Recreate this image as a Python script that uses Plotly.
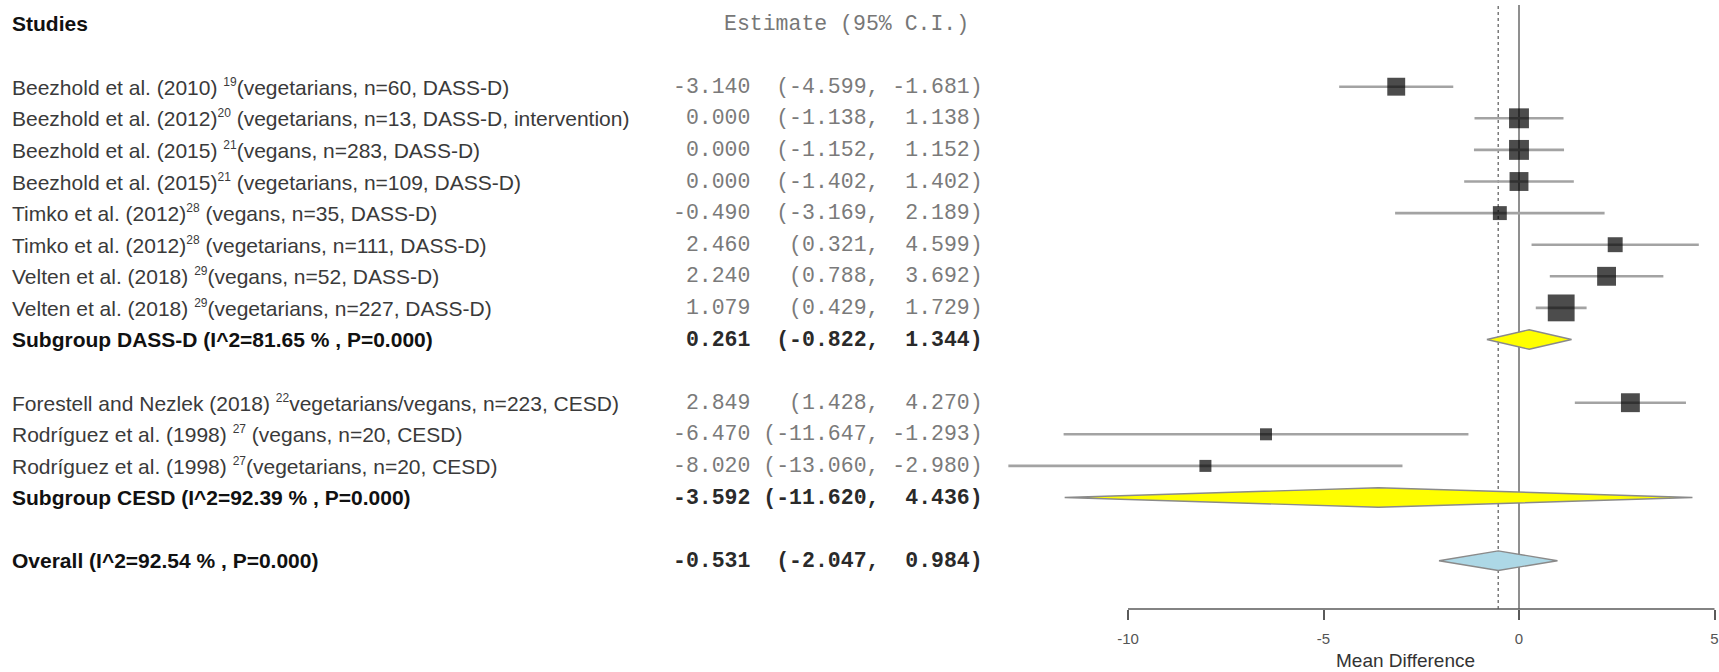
import math
import plotly.graph_objects as go

# ---- study-level data --------------------------------------------------
study_names = [
    ("Beezhold et al. (2010) ", "19", "(vegetarians, n=60, DASS-D)"),
    ("Beezhold et al. (2012)", "20", " (vegetarians, n=13, DASS-D, intervention)"),
    ("Beezhold et al. (2015) ", "21", "(vegans, n=283, DASS-D)"),
    ("Beezhold et al. (2015)", "21", " (vegetarians, n=109, DASS-D)"),
    ("Timko et al. (2012)", "28", " (vegans, n=35, DASS-D)"),
    ("Timko et al. (2012)", "28", " (vegetarians, n=111, DASS-D)"),
    ("Velten et al. (2018) ", "29", "(vegans, n=52, DASS-D)"),
    ("Velten et al. (2018) ", "29", "(vegetarians, n=227, DASS-D)"),
    ("Forestell and Nezlek (2018) ", "22", "vegetarians/vegans, n=223, CESD)"),
    ("Rodríguez et al. (1998) ", "27", " (vegans, n=20, CESD)"),
    ("Rodríguez et al. (1998) ", "27", "(vegetarians, n=20, CESD)"),
]
study_est = [-3.140, 0.000, 0.000, 0.000, -0.490, 2.460, 2.240, 1.079, 2.849, -6.470, -8.020]
study_lower = [-4.599, -1.138, -1.152, -1.402, -3.169, 0.321, 0.788, 0.429, 1.428, -11.647, -13.060]
study_upper = [-1.681, 1.138, 1.152, 1.402, 2.189, 4.599, 3.692, 1.729, 4.270, -1.293, -2.980]
study_weight = [8.9, 11.0, 11.0, 9.9, 5.4, 6.2, 9.9, 20.0, 9.9, 4.0, 4.0]
study_rows = [2, 3, 4, 5, 6, 7, 8, 9, 12, 13, 14]

# ---- pooled estimates --------------------------------------------------
summary_labels = [
    "Subgroup DASS-D (I^2=81.65 % , P=0.000)",
    "Subgroup CESD (I^2=92.39 % , P=0.000)",
    "Overall (I^2=92.54 % , P=0.000)",
]
summary_est = [0.261, -3.592, -0.531]
summary_lower = [-0.822, -11.620, -2.047]
summary_upper = [1.344, 4.436, 0.984]
summary_rows = [10, 15, 17]
summary_fill = ["#ffff00", "#ffff00", "#add8e6"]

tick_vals = [-10, -5, 0, 5]
tick_text = ["-10", "-5", "0", "5"]

W, H = 1719, 672
ROW0_PX, ROW_PX = 23.5, 31.6      # header row centre and row pitch
AXIS_PX = 609                      # vertical position of the x axis line
X0_PX, UNIT_PX = 1519, 39.1        # pixel of x=0 and pixels per unit
PANEL_LEFT = 1000

x_range = [(PANEL_LEFT - X0_PX) / UNIT_PX, (W - X0_PX) / UNIT_PX]
y_range = [(AXIS_PX - ROW0_PX) / ROW_PX, -ROW0_PX / ROW_PX]

SANS = "Liberation Sans, Arial, sans-serif"
MONO = "Liberation Mono, Courier New, monospace"
NBSP = "\u00a0"


def ci_text(e, lo, hi):
    s = f"{e:.3f}".rjust(6) + " " + ("(" + f"{lo:.3f}").rjust(8) + ", " + f"{hi:.3f}".rjust(6) + ")"
    return s.replace(" ", NBSP)


def study_label(head, ref, tail):
    return (head.replace(" ", NBSP)
            + f"<sup><span style='font-size:12px'>{ref}</span></sup>"
            + tail.replace(" ", NBSP))


fig = go.Figure()

# confidence-interval whiskers
xs, ys = [], []
for lo, hi, r in zip(study_lower, study_upper, study_rows):
    xs += [lo, hi, None]
    ys += [r, r, None]
fig.add_trace(go.Scatter(x=xs, y=ys, mode="lines",
                         line=dict(color="#a3a3a3", width=2.6),
                         hoverinfo="skip", showlegend=False))

# study boxes, area proportional to weight
fig.add_trace(go.Scatter(
    x=study_est, y=study_rows, mode="markers",
    marker=dict(symbol="square", color="black",
                size=[6.0 * math.sqrt(w) for w in study_weight],
                line=dict(width=0)),
    hoverinfo="skip", showlegend=False))

# pooled diamonds
HALF = 0.31
for e, lo, hi, r, c in zip(summary_est, summary_lower, summary_upper, summary_rows, summary_fill):
    fig.add_trace(go.Scatter(
        x=[lo, e, hi, e, lo], y=[r, r - HALF, r, r + HALF, r],
        mode="lines", fill="toself", fillcolor=c,
        line=dict(color="#8a8a8a", width=1.4),
        hoverinfo="skip", showlegend=False))

# reference lines: null effect and overall estimate
top = (AXIS_PX - 5) / AXIS_PX
fig.add_shape(type="line", xref="x", yref="y domain", x0=0, x1=0, y0=0, y1=top,
              line=dict(color="#6a6a6a", width=1.5), layer="below")
fig.add_shape(type="line", xref="x", yref="y domain",
              x0=summary_est[2], x1=summary_est[2], y0=0, y1=top,
              line=dict(color="#7a7a7a", width=1.5, dash="dot"), layer="below")
# axis line spanning the labelled ticks
fig.add_shape(type="line", xref="x", yref="y domain",
              x0=tick_vals[0], x1=tick_vals[-1], y0=0, y1=0,
              line=dict(color="#5a5a5a", width=1.5))

ann = []
# column headers
ann.append(dict(text="<b>Studies</b>", x=10 / W, y=0, xref="paper", yref="y",
                xanchor="left", yanchor="middle", showarrow=False,
                font=dict(family=SANS, size=21, color="#111111")))
ann.append(dict(text="Estimate (95% C.I.)".replace(" ", NBSP), x=722 / W, y=0,
                xref="paper", yref="y", xanchor="left", yanchor="middle",
                showarrow=False, font=dict(family=MONO, size=21.5, color="#777777")))

for (head, ref, tail), e, lo, hi, r in zip(study_names, study_est, study_lower, study_upper, study_rows):
    ann.append(dict(text=study_label(head, ref, tail), x=10 / W, y=r, xref="paper", yref="y",
                    xanchor="left", yanchor="middle", showarrow=False,
                    font=dict(family=SANS, size=21, color="#3a3a3a")))
    ann.append(dict(text=ci_text(e, lo, hi), x=671 / W, y=r, xref="paper", yref="y",
                    xanchor="left", yanchor="middle", showarrow=False,
                    font=dict(family=MONO, size=21.5, color="#7a7a7a")))

for lab, e, lo, hi, r in zip(summary_labels, summary_est, summary_lower, summary_upper, summary_rows):
    ann.append(dict(text=f"<b>{lab}</b>", x=10 / W, y=r, xref="paper", yref="y",
                    xanchor="left", yanchor="middle", showarrow=False,
                    font=dict(family=SANS, size=21, color="#111111")))
    ann.append(dict(text=f"<b>{ci_text(e, lo, hi)}</b>", x=671 / W, y=r, xref="paper",
                    yref="y", xanchor="left", yanchor="middle", showarrow=False,
                    font=dict(family=MONO, size=21.5, color="#2a2a2a")))

ann.append(dict(text="Mean Difference", x=1405 / W, y=(H - 660) / H, xref="paper",
                yref="paper", xanchor="center", yanchor="middle", showarrow=False,
                font=dict(family=SANS, size=19, color="#333333")))

fig.update_layout(
    width=W, height=H,
    margin=dict(l=0, r=0, t=0, b=0),
    paper_bgcolor="white", plot_bgcolor="white",
    showlegend=False,
    annotations=ann,
    xaxis=dict(domain=[PANEL_LEFT / W, 1], range=x_range,
               showgrid=False, zeroline=False, showline=False,
               ticks="outside", ticklen=10, tickwidth=1.5, tickcolor="#5a5a5a",
               tickvals=tick_vals, ticktext=tick_text, ticklabelstandoff=6,
               tickfont=dict(family=SANS, size=15, color="#555555")),
    yaxis=dict(domain=[(H - AXIS_PX) / H, 1], range=y_range,
               visible=False, showgrid=False, zeroline=False),
)

fig.write_html("out.html")
